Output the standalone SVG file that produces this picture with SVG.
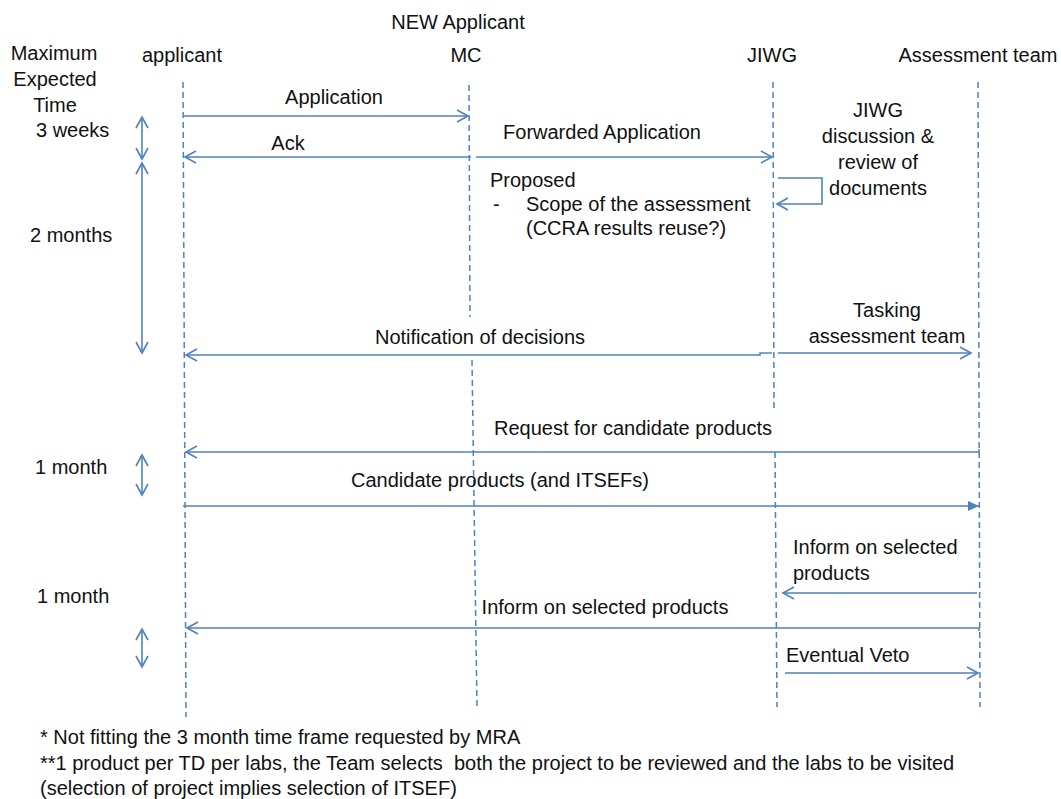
<svg xmlns="http://www.w3.org/2000/svg" width="1061" height="799" viewBox="0 0 1061 799">
<style>
text{font-family:"Liberation Sans",Arial,sans-serif;font-size:20px;fill:#111}
.m{text-anchor:middle}
.life{stroke:#4f81bd;stroke-width:1.5;stroke-dasharray:6 4;fill:none}
.msg{stroke:#4f81bd;stroke-width:1.6;fill:none}
</style>
<defs>
<marker id="open" markerUnits="userSpaceOnUse" markerWidth="14" markerHeight="16" refX="12" refY="7" orient="auto-start-reverse" viewBox="0 0 14 14">
<path d="M1,1 L12,7 L1,13" fill="none" stroke="#4f81bd" stroke-width="1.6"/>
</marker>
<marker id="fill" markerUnits="userSpaceOnUse" markerWidth="12" markerHeight="12" refX="11" refY="5" orient="auto" viewBox="0 0 12 10">
<path d="M0,0 L11,5 L0,10 Z" fill="#4f81bd"/>
</marker>
</defs>

<g id="header">
<text class="m" x="458" y="29">NEW Applicant</text>
<text class="m" x="54" y="60">Maximum</text>
<text class="m" x="55" y="86">Expected</text>
<text class="m" x="55" y="112">Time</text>
</g>

<g id="applicant">
<text class="m" x="182" y="62">applicant</text>
<path class="life" d="M183,82 L186,717"/>
</g>
<g id="mc">
<text class="m" x="466" y="62">MC</text>
<path class="life" d="M469,85 L470,317"/>
<path class="life" d="M472,360 L477,708"/>
</g>
<g id="jiwg">
<text class="m" x="772" y="62">JIWG</text>
<path class="life" d="M773,82 L774,410"/>
<path class="life" d="M775,452 L777,707"/>
</g>
<g id="assessment">
<text class="m" x="978" y="62">Assessment team</text>
<path class="life" d="M978,82 L980,707"/>
</g>

<g id="timeline">
<text x="36" y="137">3 weeks</text>
<text x="30" y="242">2 months</text>
<text x="35" y="474">1 month</text>
<text x="37" y="603">1 month</text>
<line class="msg" x1="142" y1="117" x2="142" y2="159" marker-start="url(#open)" marker-end="url(#open)"/>
<line class="msg" x1="142" y1="163" x2="142" y2="353" marker-start="url(#open)" marker-end="url(#open)"/>
<line class="msg" x1="142" y1="455" x2="142" y2="495" marker-start="url(#open)" marker-end="url(#open)"/>
<line class="msg" x1="142" y1="629" x2="142" y2="667" marker-start="url(#open)" marker-end="url(#open)"/>
</g>

<g id="connectors">
<line class="msg" x1="183" y1="116" x2="468" y2="116" marker-end="url(#open)"/>
<line class="msg" x1="471" y1="157" x2="185" y2="157" marker-end="url(#open)"/>
<line class="msg" x1="476" y1="157" x2="772" y2="157" marker-end="url(#open)"/>
<path class="msg" d="M778,178 H822 V204 H777" marker-end="url(#open)"/>
<path class="msg" d="M772,353 H760 V355 H186" marker-end="url(#open)"/>
<line class="msg" x1="778" y1="353" x2="971" y2="353" marker-end="url(#open)"/>
<path class="msg" d="M979,449 V452 H186" marker-end="url(#open)"/>
<line class="msg" x1="183" y1="506" x2="979" y2="506" marker-end="url(#fill)"/>
<line class="msg" x1="977" y1="593" x2="783" y2="593" marker-end="url(#open)"/>
<path class="msg" d="M979,631 V628 H187" marker-end="url(#open)"/>
<line class="msg" x1="785" y1="673" x2="978" y2="673" marker-end="url(#open)"/>
</g>

<g id="labels">
<text class="m" x="334" y="104">Application</text>
<text class="m" x="288" y="150">Ack</text>
<text class="m" x="602" y="139">Forwarded Application</text>
<text x="490" y="187">Proposed</text>
<text x="493" y="211">-</text>
<text x="526" y="211">Scope of the assessment</text>
<text x="526" y="235">(CCRA results reuse?)</text>
<text class="m" x="878" y="117">JIWG</text>
<text class="m" x="878" y="143">discussion &amp;</text>
<text class="m" x="878" y="169">review of</text>
<text class="m" x="878" y="195">documents</text>
<text class="m" x="480" y="344">Notification of decisions</text>
<text class="m" x="887" y="317">Tasking</text>
<text class="m" x="887" y="343">assessment team</text>
<text class="m" x="633" y="435">Request for candidate products</text>
<text class="m" x="500" y="487">Candidate products (and ITSEFs)</text>
<text x="793" y="554">Inform on selected</text>
<text x="793" y="580">products</text>
<text class="m" x="605" y="614">Inform on selected products</text>
<text x="786" y="662">Eventual Veto</text>
</g>

<g id="footnotes">
<text x="40" y="744">* Not fitting the 3 month time frame requested by MRA</text>
<text x="40" y="770">**1 product per TD per labs, the Team selects &#160;both the project to be reviewed and the labs to be visited</text>
<text x="40" y="795">(selection of project implies selection of ITSEF)</text>
</g>
</svg>
